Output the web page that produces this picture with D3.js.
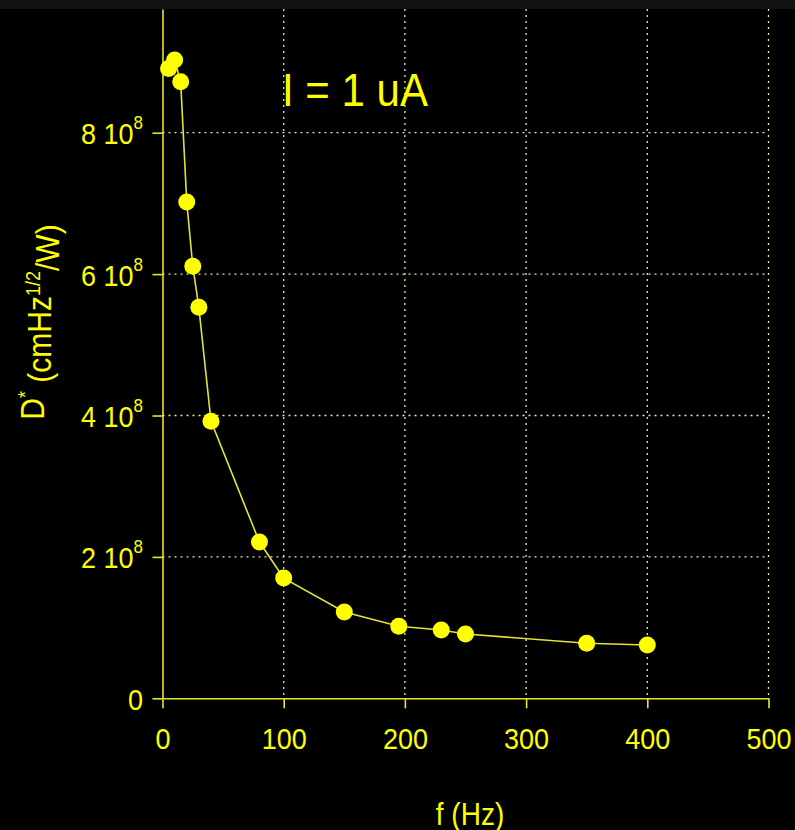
<!DOCTYPE html>
<html>
<head>
<meta charset="utf-8">
<script src="https://cdn.jsdelivr.net/npm/d3@7"></script>
<style>
  body { margin: 0; background: #000; }
  svg { display: block; }
  .tick text { font-family: "Liberation Sans", Arial, sans-serif; }
</style>
</head>
<body>
<div id="chart"></div>
<script>
// measured data: frequency (Hz) vs detectivity
var freq = [5, 10, 15, 20, 25, 30, 40, 80, 100, 150, 195, 230, 250, 350, 400];
var dstar = [8.91e8, 9.03e8, 8.72e8, 7.02e8, 6.11e8, 5.53e8, 3.92e8, 2.21e8, 1.70e8,
             1.22e8, 1.02e8, 9.66e7, 9.1e7, 7.78e7, 7.54e7];

var xTicks = [0, 100, 200, 300, 400, 500];
var yTicks = [0, 2e8, 4e8, 6e8, 8e8];
var yTickMant = ["0", "2", "4", "6", "8"];
var yTickExp = ["", "8", "8", "8", "8"];

var W = 795, H = 830;
var yellow = "#ffff00";
var axisCol = "#e6e62e";
var gridCol = "#e8e8a8";
var font = "Liberation Sans, Arial, sans-serif";

var svg = d3.select("#chart").append("svg")
    .attr("width", W)
    .attr("height", H);

svg.append("rect").attr("width", W).attr("height", H).attr("fill", "#000");
svg.append("rect").attr("width", W).attr("height", 9).attr("fill", "#151311");

var xScale = d3.scaleLinear().domain([0, 500]).range([162.5, 768.5]);
var yScale = d3.scaleLinear().domain([0, 9.75e8]).range([698.3, 9]);

//grid lines
svg.append("g").selectAll("line")
   .data(xTicks.slice(1))
   .enter().append("line")
   .attr("x1", function(d) { return xScale(d); })
   .attr("x2", function(d) { return xScale(d); })
   .attr("y1", yScale.range()[1])
   .attr("y2", yScale(0))
   .attr("stroke", gridCol)
   .attr("stroke-width", 1.3)
   .attr("stroke-dasharray", "2,4");

svg.append("g").selectAll("line")
   .data(yTicks.slice(1))
   .enter().append("line")
   .attr("x1", xScale(0))
   .attr("x2", xScale(500))
   .attr("y1", function(d) { return yScale(d); })
   .attr("y2", function(d) { return yScale(d); })
   .attr("stroke", gridCol)
   .attr("stroke-width", 1.3)
   .attr("stroke-dasharray", "2,4");

//x axis
var xAxis = d3.axisBottom(xScale).tickValues(xTicks).tickSize(10).tickSizeOuter(0).tickPadding(17);
var gx = svg.append("g")
    .attr("transform", "translate(0," + yScale(0) + ")")
    .call(xAxis);

//y axis
var yAxis = d3.axisLeft(yScale).tickValues(yTicks).tickSize(10).tickSizeOuter(0)
    .tickFormat(function(d, i) { return ""; });
var gy = svg.append("g")
    .attr("transform", "translate(" + xScale(0) + ",0)")
    .call(yAxis);

[gx, gy].forEach(function(g) {
  g.select(".domain").attr("stroke", axisCol).attr("stroke-width", 1.6);
  g.selectAll(".tick line").attr("stroke", axisCol).attr("stroke-width", 1.6);
  g.selectAll(".tick text").attr("fill", yellow).attr("font-size", 27)
   .attr("transform", "scale(1,1.1)");
});
gx.selectAll(".tick text").attr("dy", "0.71em");

//y tick labels with exponent
gy.selectAll(".tick text").each(function(d, i) {
  var t = d3.select(this).attr("dy", "0.37em").attr("x", -19.5);
  t.append("tspan").text(yTickMant[i] === "0" ? "0" : yTickMant[i] + " 10");
  if (yTickExp[i]) {
    t.append("tspan").attr("font-size", 17).attr("dy", "-0.8em").text(yTickExp[i]);
  }
});

//line and points
var line = d3.line()
    .x(function(d, i) { return xScale(freq[i]); })
    .y(function(d) { return yScale(d); });

svg.append("path")
   .datum(dstar)
   .attr("d", line)
   .attr("fill", "none")
   .attr("stroke", "#e2e23a")
   .attr("stroke-width", 1.6);

svg.append("g").selectAll("circle")
   .data(dstar)
   .enter().append("circle")
   .attr("cx", function(d, i) { return xScale(freq[i]); })
   .attr("cy", function(d) { return yScale(d); })
   .attr("r", 8.5)
   .attr("fill", yellow);

//annotation
svg.append("text")
   .attr("transform", "translate(282,106) scale(1,1.08)")
   .attr("fill", yellow)
   .attr("font-family", font)
   .attr("font-size", 42)
   .text("I = 1 uA");

//x axis label
svg.append("text")
   .attr("transform", "translate(470,825) scale(1,1.1)")
   .attr("text-anchor", "middle")
   .attr("fill", yellow)
   .attr("font-family", font)
   .attr("font-size", 28)
   .text("f (Hz)");

//y axis label
var yl = svg.append("text")
   .attr("transform", "translate(43.5,322) rotate(-90) scale(1,1.08)")
   .attr("text-anchor", "middle")
   .attr("fill", yellow)
   .attr("font-family", font)
   .attr("font-size", 30);
yl.append("tspan").text("D");
yl.append("tspan").attr("font-size", 18).attr("dy", "-0.6em").text("*");
yl.append("tspan").attr("dy", "0.6em").text(" (cmHz");
yl.append("tspan").attr("font-size", 18).attr("dy", "-0.6em").text("1/2");
yl.append("tspan").attr("dy", "0.6em").text("/W)");
</script>
</body>
</html>
